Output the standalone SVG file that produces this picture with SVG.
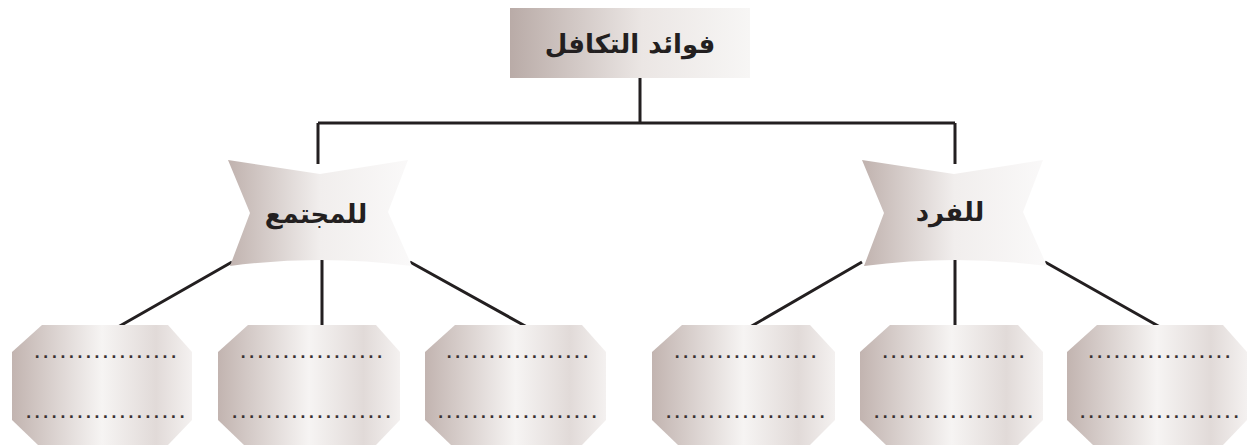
<svg xmlns="http://www.w3.org/2000/svg" width="1251" height="447" viewBox="0 0 1251 447">
<style>
.ln{stroke:#231f20;stroke-width:3;fill:none;stroke-linecap:butt}
.lbl{font-family:"DejaVu Sans",sans-serif;font-size:26px;font-weight:bold;fill:#231f20;text-anchor:middle}
.dots{font-family:"DejaVu Sans",sans-serif;font-size:14px;font-weight:bold;fill:#3a3232;text-anchor:middle;letter-spacing:3.2px}
</style>
<defs>
<linearGradient id="gTop" x1="0" y1="0" x2="1" y2="0">
<stop offset="0" stop-color="#b9aba7"/>
<stop offset="0.55" stop-color="#ebe6e4"/>
<stop offset="1" stop-color="#f7f6f5"/>
</linearGradient>
<linearGradient id="gBox" x1="0" y1="0" x2="1" y2="0">
<stop offset="0" stop-color="#c2b4b0"/>
<stop offset="0.5" stop-color="#f6f4f3"/>
<stop offset="0.8" stop-color="#e1dad8"/>
<stop offset="1" stop-color="#f4f1f0"/>
</linearGradient>
<linearGradient id="gBow" x1="0" y1="0" x2="1" y2="0">
<stop offset="0" stop-color="#c0b2ae"/>
<stop offset="0.5" stop-color="#f1eeed"/>
<stop offset="1" stop-color="#faf9f9"/>
</linearGradient>
</defs>
<g id="connectors">
<path class="ln" d="M640 78V123M318 123H955M318 123V164M955 123V164"/>
<path class="ln" d="M232 262L118 327M322 260V327M410 262L527 327"/>
<path class="ln" d="M862 262L750 327M955 260V327M1045 262L1160 327"/>
</g>
<g id="top">
<rect x="510" y="8" width="240" height="70" fill="url(#gTop)"/>
<text class="lbl" x="630" y="53">فوائد التكافل</text>
</g>
<g id="community">
<path d="M228 160L320 174L408 160L388 212L412 266Q320 254 230 266L250 213Z" fill="url(#gBow)"/>
<text class="lbl" x="316" y="223">للمجتمع</text>
</g>
<g id="individual">
<path d="M862 160L954 174L1043 160L1023 212L1047 266Q954 254 864 266L884 213Z" fill="url(#gBow)"/>
<text class="lbl" x="950" y="221">للفرد</text>
</g>
<g id="b1"><path d="M42 325H168L192 352V420L168 445H38L12 420V352Z" fill="url(#gBox)"/><text class="dots" x="107" y="358">.................</text><text class="dots" x="107" y="418">...................</text></g>
<g id="b2"><path d="M248 325H376L400 352V420L376 445H244L218 420V352Z" fill="url(#gBox)"/><text class="dots" x="313" y="358">.................</text><text class="dots" x="313" y="418">...................</text></g>
<g id="b3"><path d="M455 325H582L606 352V420L582 445H451L425 420V352Z" fill="url(#gBox)"/><text class="dots" x="519" y="358">.................</text><text class="dots" x="519" y="418">...................</text></g>
<g id="b4"><path d="M682 325H810L835 352V420L810 445H678L652 420V352Z" fill="url(#gBox)"/><text class="dots" x="747" y="358">.................</text><text class="dots" x="747" y="418">...................</text></g>
<g id="b5"><path d="M890 325H1018L1043 352V420L1018 445H886L860 420V352Z" fill="url(#gBox)"/><text class="dots" x="955" y="358">.................</text><text class="dots" x="955" y="418">...................</text></g>
<g id="b6"><path d="M1097 325H1223L1247 352V420L1223 445H1093L1067 420V352Z" fill="url(#gBox)"/><text class="dots" x="1161" y="358">.................</text><text class="dots" x="1161" y="418">...................</text></g>
</svg>
